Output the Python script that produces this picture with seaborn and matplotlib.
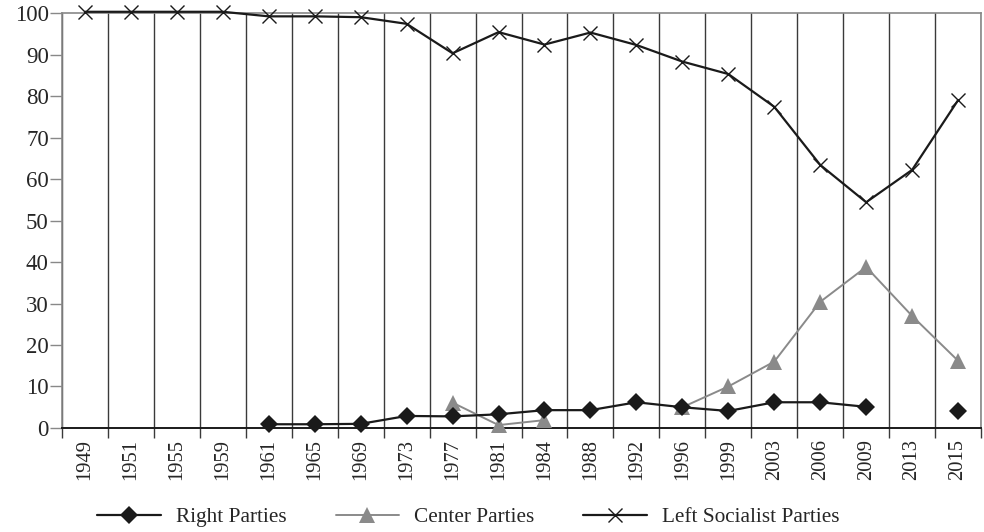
import numpy as np
import pandas as pd
import matplotlib.pyplot as plt
import seaborn as sns
from matplotlib.lines import Line2D

years = ['1949', '1951', '1955', '1959', '1961', '1965', '1969', '1973', '1977', '1981',
         '1984', '1988', '1992', '1996', '1999', '2003', '2006', '2009', '2013', '2015']
right = [np.nan, np.nan, np.nan, np.nan, 0.9, 0.9, 1.0, 2.9, 2.8, 3.3,
         4.3, 4.3, 6.2, 5.0, 4.1, 6.2, 6.2, 5.1, np.nan, 4.1]
center = [np.nan, np.nan, np.nan, np.nan, np.nan, np.nan, np.nan, np.nan, 6.1, 0.7,
          1.9, np.nan, np.nan, 5.0, 10.0, 16.0, 30.4, 38.8, 27.0, 16.2]
left = [100.3, 100.3, 100.3, 100.3, 99.2, 99.2, 99.0, 97.4, 90.3, 95.4,
        92.4, 95.3, 92.3, 88.3, 85.3, 77.4, 63.4, 54.4, 62.2, 79.0]

sns.set_style('white')
plt.rcParams['font.family'] = ['Liberation Serif', 'DejaVu Serif']

df = pd.DataFrame({'pos': np.arange(len(years)), 'Right': right, 'Center': center, 'Left': left})

styles = {
    'Right': dict(color='#1a1a1a', marker='D', markersize=9.5, lw=1.6, mew=0),
    'Center': dict(color='#8a8a8a', marker='^', markersize=11, lw=1.4, mew=0),
    'Left': dict(color='#1a1a1a', marker='x', markersize=9.5, lw=1.6, mew=1.0),
}
names = {'Right': 'Right Parties', 'Center': 'Center Parties', 'Left': 'Left Socialist Parties'}

fig = plt.figure(figsize=(9.84, 5.32), dpi=100)
ax = fig.add_axes([0.063, 0.1955, 0.934, 0.78])

# vertical gridlines at the category boundaries
for b in np.arange(-0.5, len(years), 1.0):
    ax.axvline(b, color='#3a3a3a', lw=1.0, zorder=0)

# draw each series in contiguous pieces so gaps stay open
for col in ['Left', 'Center', 'Right']:
    seg_id = df[col].isna().cumsum()
    sub = df[df[col].notna()]
    for _, piece in sub.groupby(seg_id[df[col].notna()]):
        st = styles[col]
        sns.lineplot(data=piece, x='pos', y=col, ax=ax, color=st['color'], marker=st['marker'],
                     markersize=st['markersize'], linewidth=st['lw'], markeredgewidth=st['mew'],
                     markeredgecolor=st['color'], clip_on=False, zorder=3)

ax.set_xlim(-0.5, len(years) - 0.5)
ax.set_ylim(0, 100)
ax.set_yticks(range(0, 101, 10))
ax.set_xticks(np.arange(len(years)))
ax.set_xticklabels(years, rotation=90, fontsize=14.8)
ax.tick_params(axis='y', labelsize=16.5, length=8.5, width=1, color='#888888', direction='out', left=True, pad=1)
ax.tick_params(axis='x', which='major', length=0, pad=8)
ax.set_xticks(np.arange(-0.5, len(years), 1.0), minor=True)
ax.tick_params(axis='x', which='minor', length=7, width=1, color='#3a3a3a', direction='out', bottom=True)
ax.set_xlabel('')
ax.set_ylabel('')

for side in ['top', 'right', 'left']:
    ax.spines[side].set_color('#888888')
    ax.spines[side].set_linewidth(1.2)
ax.spines['bottom'].set_color('#1a1a1a')
ax.spines['bottom'].set_linewidth(1.4)

handles = []
for col in ['Right', 'Center', 'Left']:
    st = styles[col]
    handles.append(Line2D([], [], color=st['color'], marker=st['marker'], markersize=st['markersize'],
                          lw=st['lw'], mew=st['mew'], mec=st['color'], label=names[col]))
fig.legend(handles=handles, loc='lower center', ncol=3, frameon=False, fontsize=15.3,
           bbox_to_anchor=(0.476, -0.027), handlelength=3.0, columnspacing=2.3, handletextpad=0.7)

fig.savefig('out.png', dpi=100)
